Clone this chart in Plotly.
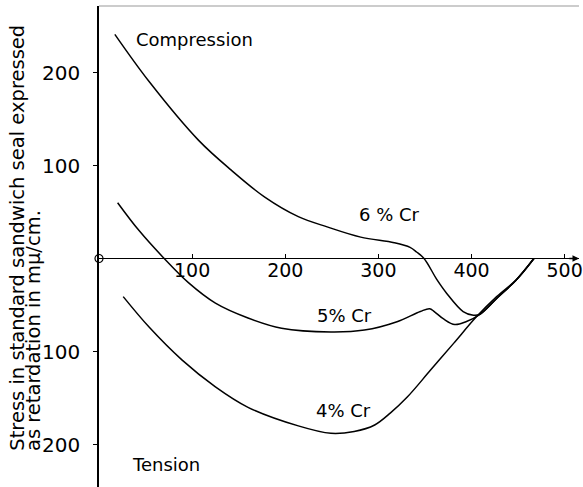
import plotly.graph_objects as go

# Data (retardation in mμ/cm; + compression, - tension)
temp_6 = [17, 54, 107, 142, 178, 214, 245, 281, 317, 334, 341, 349, 363, 373, 391, 402, 409, 427, 448, 467]
stress_6 = [241, 190, 127, 95, 66, 45, 34, 23, 17, 12, 7, 0, -23, -37, -57, -61, -60, -43, -23, 0]

temp_5 = [20, 43, 70, 96, 125, 160, 196, 249, 285, 320, 345, 355, 360, 370, 382, 394, 409, 427, 448, 467]
stress_5 = [60, 30, 0, -26, -48, -64, -75, -79, -77, -68, -57, -54, -57, -65, -71, -68, -60, -43, -23, 0]

temp_4 = [26, 54, 89, 125, 160, 214, 249, 274, 296, 313, 331, 356, 381, 405, 427, 448, 467]
stress_4 = [-41, -74, -109, -138, -160, -180, -188, -186, -179, -166, -149, -120, -91, -63, -41, -23, 0]

x_ticks = [100, 200, 300, 400, 500]
y_ticks = [-200, -100, 100, 200]
y_tick_text = ["200", "100", "100", "200"]
origin = ([0], [0])

X_RANGE = [0, 515.4]
Y_RANGE = [-245.7, 271.5]

FONT = "DejaVu Sans"
fig = go.Figure()
line = dict(color="black", width=1.5, shape="spline", smoothing=1.0)
for xs, ys in [(temp_6, stress_6), (temp_5, stress_5), (temp_4, stress_4)]:
    fig.add_trace(go.Scatter(x=xs, y=ys, mode="lines", line=line,
                             showlegend=False, hoverinfo="skip"))

fig.add_trace(go.Scatter(x=origin[0], y=origin[1], mode="markers",
                         marker=dict(symbol="circle-open", size=8, color="black",
                                     line=dict(width=1.2)),
                         showlegend=False, hoverinfo="skip", cliponaxis=False))

xpos = (0 - Y_RANGE[0]) / (Y_RANGE[1] - Y_RANGE[0])

fig.update_layout(
    width=583, height=487,
    margin=dict(l=99, r=0, t=6, b=0),
    plot_bgcolor="white", paper_bgcolor="white",
    font=dict(family=FONT, color="black", size=18),
    xaxis=dict(range=X_RANGE, anchor="free", position=xpos,
               showline=True, linecolor="black", linewidth=1.3,
               ticks="inside", ticklen=4, tickcolor="black",
               tickvals=x_ticks, ticktext=[str(v) for v in x_ticks],
               tickfont=dict(size=19, family=FONT),
               ticklabeloverflow="allow", ticklabelstandoff=-5,
               showgrid=False, zeroline=False),
    yaxis=dict(range=Y_RANGE, showline=True, linecolor="black", linewidth=1.5,
               ticks="outside", ticklen=4, tickcolor="black",
               tickvals=y_ticks, ticktext=y_tick_text,
               tickfont=dict(size=20, family=FONT),
               ticklabelstandoff=9,
               showgrid=False, zeroline=False),
)

# arrowhead at end of x axis
fig.add_annotation(x=X_RANGE[1], y=0, ax=X_RANGE[1] - 12, ay=0,
                   xref="x", yref="y", axref="x", ayref="y",
                   showarrow=True, arrowhead=2, arrowsize=1, arrowwidth=1.3,
                   arrowcolor="black", text="")

# top frame line (faint)
fig.add_shape(type="line", xref="paper", yref="paper", x0=0, x1=1, y0=1, y1=1,
              line=dict(color="#999999", width=1))

labels = [
    ("Compression", 103, 236),
    ("6 % Cr", 311.5, 46.8),
    ("5% Cr", 263.6, -61.8),
    ("4% Cr", 262.5, -163),
    ("Tension", 72, -222),
]
for txt, x, y in labels:
    fig.add_annotation(x=x, y=y, text=txt, showarrow=False,
                       font=dict(size=18, family=FONT), xanchor="center", yanchor="middle")

title_lines = [
    ("Stress in standard sandwich seal expressed", 16),
    ("as retardation in mμ/cm.", 33),
]
for txt, px in title_lines:
    fig.add_annotation(
        xref="paper", yref="paper", x=(px - 99) / 484, y=(487 - 453) / 481,
        text=txt, textangle=-90, showarrow=False,
        font=dict(size=19.5, family=FONT), xanchor="center", yanchor="bottom")

fig.write_html("out.html", config={"displayModeBar": False},
               post_script="document.body.style.margin='0';document.body.style.overflow='hidden';")
